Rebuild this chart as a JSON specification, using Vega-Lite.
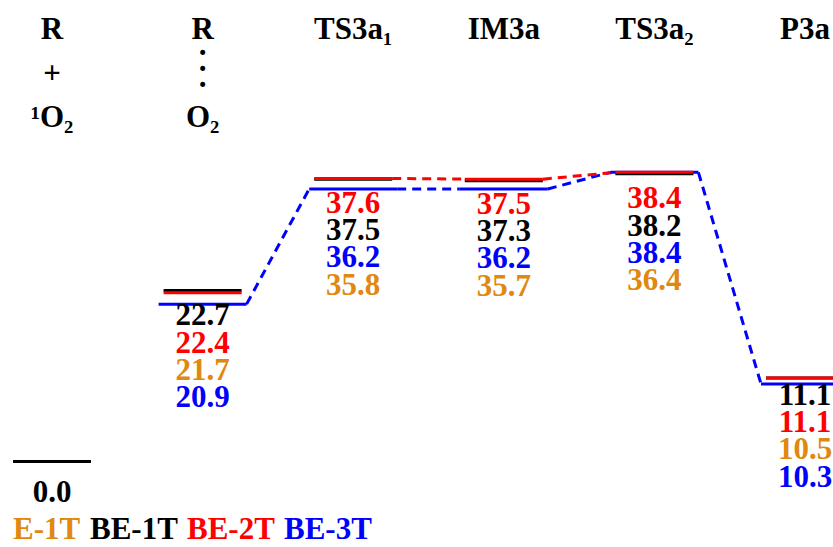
{
  "$schema": "https://vega.github.io/schema/vega-lite/v6.json",
  "width": 833,
  "height": 547,
  "autosize": {"type": "fit", "contains": "padding"},
  "padding": 0,
  "background": "white",
  "config": {
    "view": {"stroke": null},
    "text": {"font": "Liberation Serif", "fontWeight": "bold", "fontSize": 31, "baseline": "middle", "align": "center"}
  },
  "datasets": {
    "levels": [
      {"stage": "R+1O2", "pos": 0, "method": "BE-1T", "value": 0.0, "rank": 0},
      {"stage": "R...O2", "pos": 1, "method": "BE-1T", "value": 22.7, "rank": 1},
      {"stage": "R...O2", "pos": 1, "method": "BE-2T", "value": 22.4, "rank": 2},
      {"stage": "R...O2", "pos": 1, "method": "E-1T", "value": 21.7, "rank": 3},
      {"stage": "R...O2", "pos": 1, "method": "BE-3T", "value": 20.9, "rank": 4},
      {"stage": "TS3a1", "pos": 2, "method": "BE-2T", "value": 37.6, "rank": 1},
      {"stage": "TS3a1", "pos": 2, "method": "BE-1T", "value": 37.5, "rank": 2},
      {"stage": "TS3a1", "pos": 2, "method": "BE-3T", "value": 36.2, "rank": 3},
      {"stage": "TS3a1", "pos": 2, "method": "E-1T", "value": 35.8, "rank": 4},
      {"stage": "IM3a", "pos": 3, "method": "BE-2T", "value": 37.5, "rank": 1},
      {"stage": "IM3a", "pos": 3, "method": "BE-1T", "value": 37.3, "rank": 2},
      {"stage": "IM3a", "pos": 3, "method": "BE-3T", "value": 36.2, "rank": 3},
      {"stage": "IM3a", "pos": 3, "method": "E-1T", "value": 35.7, "rank": 4},
      {"stage": "TS3a2", "pos": 4, "method": "BE-2T", "value": 38.4, "rank": 1},
      {"stage": "TS3a2", "pos": 4, "method": "BE-1T", "value": 38.2, "rank": 2},
      {"stage": "TS3a2", "pos": 4, "method": "BE-3T", "value": 38.4, "rank": 3},
      {"stage": "TS3a2", "pos": 4, "method": "E-1T", "value": 36.4, "rank": 4},
      {"stage": "P3a", "pos": 5, "method": "BE-1T", "value": 11.1, "rank": 1},
      {"stage": "P3a", "pos": 5, "method": "BE-2T", "value": 11.1, "rank": 2},
      {"stage": "P3a", "pos": 5, "method": "E-1T", "value": 10.5, "rank": 3},
      {"stage": "P3a", "pos": 5, "method": "BE-3T", "value": 10.3, "rank": 4}
    ],
    "headers": [
      {"pos": 0, "slot": "top", "label": ["R"]},
      {"pos": 0, "slot": "mid", "label": ["+"]},
      {"pos": 0, "slot": "bottom", "label": ["¹O₂"]},
      {"pos": 1, "slot": "top", "label": ["R"]},
      {"pos": 1, "slot": "mid", "label": ["·", "·", "·"]},
      {"pos": 1, "slot": "bottom", "label": ["O₂"]},
      {"pos": 2, "slot": "top", "label": ["TS3a₁"]},
      {"pos": 3, "slot": "top", "label": ["IM3a"]},
      {"pos": 4, "slot": "top", "label": ["TS3a₂"]},
      {"pos": 5, "slot": "top", "label": ["P3a"]}
    ]
  },
  "layer": [
    {
      "data": {"name": "levels"},
      "encoding": {
        "x": {"field": "pos", "type": "quantitative", "scale": {"domain": [-0.3453, 5.1859], "nice": false, "zero": false}, "axis": null},
        "y": {"field": "value", "type": "quantitative", "scale": {"domain": [-11.35, 61.29], "nice": false, "zero": false}, "axis": null}
      },
      "layer": [
        {
          "transform": [
            {"filter": "datum.method === 'BE-3T'"},
            {"window": [{"op": "lead", "field": "value", "as": "next_value"}, {"op": "lead", "field": "pos", "as": "next_pos"}], "sort": [{"field": "pos"}]},
            {"filter": "datum.next_pos != null"}
          ],
          "mark": {"type": "rule", "strokeDash": [9, 6], "strokeWidth": 3, "color": "#0000ff", "xOffset": 44, "x2Offset": -44, "clip": true},
          "encoding": {"x2": {"field": "next_pos"}, "y2": {"field": "next_value"}}
        },
        {
          "transform": [
            {"filter": "datum.method === 'BE-2T' && datum.pos >= 2 && datum.pos <= 4"},
            {"window": [{"op": "lead", "field": "value", "as": "next_value"}, {"op": "lead", "field": "pos", "as": "next_pos"}], "sort": [{"field": "pos"}]},
            {"filter": "datum.next_pos != null"}
          ],
          "mark": {"type": "rule", "strokeDash": [9, 6], "strokeWidth": 3, "color": "#ff0000", "xOffset": 39, "x2Offset": -39, "clip": true},
          "encoding": {"x2": {"field": "next_pos"}, "y2": {"field": "next_value"}}
        },
        {
          "transform": [{"filter": "datum.method === 'BE-3T'"}],
          "mark": {"type": "rule", "strokeWidth": 3, "color": "#0000ff", "xOffset": -44, "x2Offset": 44, "clip": true},
          "encoding": {"x2": {"field": "pos"}}
        },
        {
          "transform": [{"filter": "datum.method === 'BE-1T'"}],
          "mark": {"type": "rule", "strokeWidth": 3, "color": "#000000", "xOffset": -39, "x2Offset": 39, "clip": true},
          "encoding": {"x2": {"field": "pos"}}
        },
        {
          "transform": [{"filter": "datum.method === 'BE-2T'"}],
          "mark": {"type": "rule", "strokeWidth": 3, "color": "#ff0000", "xOffset": -39, "x2Offset": 39, "clip": true},
          "encoding": {"x2": {"field": "pos"}}
        },
        {
          "transform": [
            {"joinaggregate": [{"op": "min", "field": "value", "as": "base"}], "groupby": ["stage"]},
            {"filter": "datum.rank === 0"}
          ],
          "mark": {"type": "text", "dy": 31, "clip": true},
          "encoding": {
            "y": {"field": "base", "type": "quantitative"},
            "text": {"field": "value", "type": "quantitative", "format": ".1f"},
            "color": {"field": "method", "type": "nominal", "scale": {"domain": ["E-1T", "BE-1T", "BE-2T", "BE-3T"], "range": ["#e0880f", "#000000", "#ff0000", "#0000ff"]},
              "legend": {"orient": "none", "legendX": 4, "legendY": 514, "direction": "horizontal", "columns": 4, "title": null, "symbolSize": 0.01, "symbolStrokeWidth": 0.01, "symbolOpacity": 0, "labelOffset": -22, "labelFont": "Liberation Serif", "labelFontWeight": "bold", "labelFontSize": 31, "columnPadding": 0, "padding": 0.01, "labelLimit": 0,
                "encode": {"labels": {"update": {"fill": {"scale": "color", "field": "value"}}}}}}
          }
        },
        {
          "transform": [
            {"joinaggregate": [{"op": "min", "field": "value", "as": "base"}], "groupby": ["stage"]},
            {"filter": "datum.rank === 1"}
          ],
          "mark": {"type": "text", "dy": 12, "clip": true},
          "encoding": {
            "y": {"field": "base", "type": "quantitative"},
            "text": {"field": "value", "type": "quantitative", "format": ".1f"},
            "color": {"field": "method", "type": "nominal"}
          }
        },
        {
          "transform": [
            {"joinaggregate": [{"op": "min", "field": "value", "as": "base"}], "groupby": ["stage"]},
            {"filter": "datum.rank === 2"}
          ],
          "mark": {"type": "text", "dy": 39.5, "clip": true},
          "encoding": {
            "y": {"field": "base", "type": "quantitative"},
            "text": {"field": "value", "type": "quantitative", "format": ".1f"},
            "color": {"field": "method", "type": "nominal"}
          }
        },
        {
          "transform": [
            {"joinaggregate": [{"op": "min", "field": "value", "as": "base"}], "groupby": ["stage"]},
            {"filter": "datum.rank === 3"}
          ],
          "mark": {"type": "text", "dy": 66.5, "clip": true},
          "encoding": {
            "y": {"field": "base", "type": "quantitative"},
            "text": {"field": "value", "type": "quantitative", "format": ".1f"},
            "color": {"field": "method", "type": "nominal"}
          }
        },
        {
          "transform": [
            {"joinaggregate": [{"op": "min", "field": "value", "as": "base"}], "groupby": ["stage"]},
            {"filter": "datum.rank === 4"}
          ],
          "mark": {"type": "text", "dy": 94, "clip": true},
          "encoding": {
            "y": {"field": "base", "type": "quantitative"},
            "text": {"field": "value", "type": "quantitative", "format": ".1f"},
            "color": {"field": "method", "type": "nominal"}
          }
        }
      ]
    },
    {
      "data": {"name": "headers"},
      "encoding": {
        "x": {"field": "pos", "type": "quantitative", "scale": {"domain": [-0.3453, 5.1859], "nice": false, "zero": false}, "axis": null},
        "y": {"field": "slot", "type": "ordinal", "scale": {"type": "point", "domain": ["top", "mid", "bottom"], "range": [30, 118], "padding": 0}, "axis": null},
        "text": {"field": "label"}
      },
      "layer": [
        {
          "transform": [{"filter": "length(datum.label) === 1"}],
          "mark": {"type": "text", "color": "#000000", "clip": true}
        },
        {
          "transform": [{"filter": "length(datum.label) > 1"}],
          "mark": {"type": "text", "color": "#000000", "lineHeight": 16, "dy": -20, "clip": true}
        }
      ]
    }
  ],
  "resolve": {"scale": {"y": "independent"}}
}
